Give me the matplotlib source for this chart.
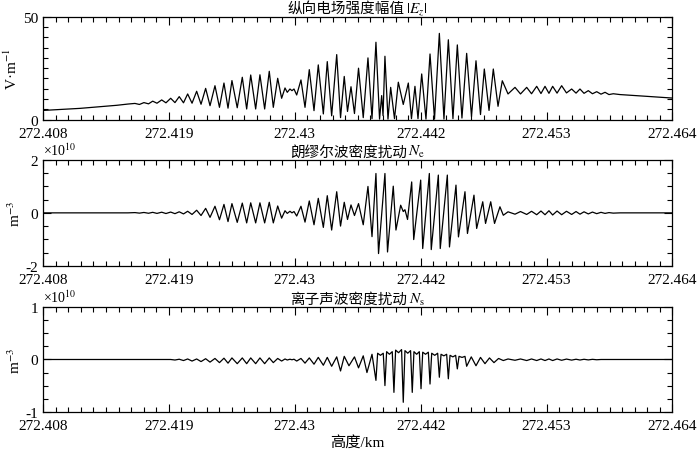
import numpy as np
import matplotlib
matplotlib.use('Agg')
import matplotlib.pyplot as plt
from matplotlib.ticker import FixedLocator, MultipleLocator, AutoMinorLocator
from matplotlib.offsetbox import TextArea, HPacker, AnchoredOffsetbox

plt.rcParams['font.family'] = ['Liberation Serif', 'Noto Sans CJK SC']
plt.rcParams['mathtext.fontset'] = 'stix'
plt.rcParams['axes.unicode_minus'] = False

# height (km), value -- extrema
ez_points = [
    (272.40800, 4.5), (272.41129, 5.5), (272.41458, 7.0), (272.41556, 7.6),
    (272.41618, 7.9), (272.41658, 7.4), (272.41698, 8.3), (272.41739, 7.7),
    (272.41776, 9.0), (272.41814, 8.0), (272.41856, 9.6), (272.41894, 8.2),
    (272.41936, 10.4), (272.41974, 8.3), (272.42012, 11.2), (272.42050, 8.2),
    (272.42087, 12.5), (272.42126, 8.0), (272.42167, 13.8), (272.42206, 7.5),
    (272.42247, 15.2), (272.42286, 6.8), (272.42330, 16.5), (272.42370, 6.0),
    (272.42410, 17.8), (272.42446, 5.6), (272.42481, 19.0), (272.42528, 5.8),
    (272.42573, 20.6), (272.42612, 5.2), (272.42648, 21.7), (272.42692, 5.2),
    (272.42730, 21.8), (272.42772, 5.2), (272.42813, 23.5), (272.42849, 6.0),
    (272.42888, 20.1), (272.42923, 10.4), (272.42953, 15.4), (272.42973, 13.3),
    (272.42997, 14.9), (272.43015, 14.1), (272.43033, 14.9), (272.43057, 12.0),
    (272.43095, 19.3), (272.43131, 6.0), (272.43169, 24.3), (272.43211, 4.4),
    (272.43249, 26.6), (272.43294, 2.8), (272.43329, 28.2), (272.43368, 1.9),
    (272.43413, 31.6), (272.43447, 1.0), (272.43480, 21.0), (272.43509, 4.0),
    (272.43540, 16.0), (272.43571, 3.0), (272.43607, 25.0), (272.43649, 1.0),
    (272.43691, 30.0), (272.43727, 0.5), (272.43762, 37.6), (272.43794, 0.3),
    (272.43813, 11.7), (272.43825, 2.0), (272.43842, 30.8), (272.43869, 0.3),
    (272.43893, 15.7), (272.43927, 0.5), (272.43961, 18.2), (272.44005, 7.4),
    (272.44050, 17.8), (272.44078, 0.5), (272.44109, 16.2), (272.44136, 0.5),
    (272.44169, 22.2), (272.44207, 0.3), (272.44243, 31.9), (272.44283, 0.3),
    (272.44326, 41.9), (272.44367, 0.3), (272.44406, 38.8), (272.44447, 0.5),
    (272.44486, 36.3), (272.44527, 0.8), (272.44569, 32.2), (272.44612, 1.5),
    (272.44652, 28.6), (272.44692, 2.5), (272.44726, 24.6), (272.44768, 4.5),
    (272.44806, 24.6), (272.44848, 6.5), (272.44886, 18.9), (272.44937, 12.5),
    (272.44999, 15.7), (272.45048, 12.5), (272.45103, 15.7), (272.45146, 12.6),
    (272.45192, 16.2), (272.45230, 12.7), (272.45266, 16.2), (272.45301, 12.8),
    (272.45334, 16.2), (272.45373, 12.9), (272.45414, 16.5), (272.45457, 13.0),
    (272.45503, 14.9), (272.45542, 12.9), (272.45577, 14.9), (272.45613, 12.8),
    (272.45651, 14.1), (272.45688, 12.6), (272.45726, 13.6), (272.45764, 12.4),
    (272.45800, 13.3), (272.45835, 12.2), (272.45873, 12.6), (272.45933, 12.2),
    (272.46155, 11.4), (272.46400, 10.5),
]

# Ne in units of 1e10 m^-3
ne_points = [
    (272.40800, 0.0), (272.41556, 0.0),
    (272.41618, 0.01), (272.41658, -0.01), (272.41698, 0.015), (272.41739, -0.015),
    (272.41776, 0.02), (272.41814, -0.02), (272.41856, 0.025), (272.41894, -0.025),
    (272.41936, 0.03), (272.41974, -0.03), (272.42012, 0.04), (272.42050, -0.04),
    (272.42087, 0.06), (272.42126, -0.06), (272.42167, 0.10), (272.42206, -0.10),
    (272.42247, 0.17), (272.42286, -0.17), (272.42330, 0.25), (272.42370, -0.26),
    (272.42410, 0.32), (272.42446, -0.33), (272.42481, 0.35), (272.42528, -0.36),
    (272.42573, 0.37), (272.42612, -0.38), (272.42648, 0.38), (272.42692, -0.38),
    (272.42730, 0.38), (272.42772, -0.38), (272.42813, 0.40), (272.42849, -0.38),
    (272.42888, 0.26), (272.42923, -0.20), (272.42953, 0.08), (272.42973, -0.02),
    (272.42997, 0.06), (272.43015, 0.0), (272.43033, 0.05), (272.43057, -0.12),
    (272.43095, 0.25), (272.43131, -0.35), (272.43169, 0.45), (272.43211, -0.45),
    (272.43249, 0.55), (272.43294, -0.55), (272.43329, 0.65), (272.43368, -0.65),
    (272.43413, 0.80), (272.43447, -0.50), (272.43480, 0.40), (272.43509, -0.25),
    (272.43540, 0.30), (272.43571, -0.10), (272.43607, 0.35), (272.43649, -0.45),
    (272.43691, 1.00), (272.43727, -0.90), (272.43762, 1.49), (272.43785, -1.54),
    (272.43842, 1.49), (272.43865, -1.48), (272.43916, 1.01), (272.43940, -0.65),
    (272.43982, 0.29), (272.44005, 0.05), (272.44020, 0.12), (272.44043, -0.25),
    (272.44080, 1.17), (272.44098, -1.01), (272.44160, 1.24), (272.44178, -1.35),
    (272.44237, 1.49), (272.44254, -1.39), (272.44317, 1.43), (272.44334, -1.35),
    (272.44397, 1.43), (272.44416, -1.29), (272.44474, 1.05), (272.44496, -0.91),
    (272.44554, 0.80), (272.44576, -0.78), (272.44634, 0.67), (272.44658, -0.59),
    (272.44712, 0.42), (272.44737, -0.40), (272.44783, 0.42), (272.44817, -0.40),
    (272.44865, 0.23), (272.44895, -0.09),
    (272.44937, 0.04), (272.44999, -0.05), (272.45048, 0.05), (272.45103, -0.06),
    (272.45146, 0.06), (272.45192, -0.07), (272.45230, 0.07), (272.45266, -0.07),
    (272.45301, 0.08), (272.45334, -0.08), (272.45373, 0.07), (272.45414, -0.07),
    (272.45457, 0.06), (272.45503, -0.06), (272.45542, 0.05), (272.45577, -0.05),
    (272.45613, 0.04), (272.45651, -0.04), (272.45688, 0.03), (272.45726, -0.03),
    (272.45764, 0.02), (272.45800, -0.02), (272.45835, 0.01), (272.45873, -0.01),
    (272.45933, 0.0), (272.46400, 0.0),
]

# Ns in units of 1e10 m^-3
ns_points = [
    (272.40800, 0.0), (272.41936, 0.0),
    (272.41974, -0.01), (272.42012, 0.005), (272.42050, -0.02), (272.42087, 0.01),
    (272.42126, -0.03), (272.42167, 0.01), (272.42206, -0.04), (272.42247, 0.015),
    (272.42286, -0.05), (272.42330, 0.02), (272.42370, -0.06), (272.42410, 0.025),
    (272.42446, -0.07), (272.42481, 0.03), (272.42528, -0.08), (272.42573, 0.03),
    (272.42612, -0.08), (272.42648, 0.03), (272.42692, -0.08), (272.42730, 0.03),
    (272.42772, -0.08), (272.42813, 0.03), (272.42849, -0.06), (272.42888, 0.02),
    (272.42923, -0.03), (272.42953, 0.01), (272.42973, -0.01), (272.42997, 0.005),
    (272.43015, -0.005), (272.43033, 0.005), (272.43057, -0.03), (272.43095, 0.02),
    (272.43131, -0.07), (272.43169, 0.03), (272.43211, -0.09), (272.43249, 0.04),
    (272.43294, -0.11), (272.43329, 0.04), (272.43368, -0.13), (272.43413, 0.05),
    (272.43447, -0.22), (272.43480, 0.06), (272.43522, -0.12), (272.43571, 0.05),
    (272.43607, -0.16), (272.43649, 0.07), (272.43682, -0.25), (272.43727, 0.10),
    (272.43762, -0.40),
    (272.43777, 0.12), (272.43802, 0.08), (272.43827, 0.12), (272.43842, -0.50),
    (272.43857, 0.15), (272.43882, 0.10), (272.43907, 0.15), (272.43922, -0.63),
    (272.43937, 0.18), (272.43963, 0.13), (272.43990, 0.19), (272.44005, -0.82),
    (272.44020, 0.17), (272.44045, 0.12), (272.44070, 0.17), (272.44085, -0.63),
    (272.44100, 0.15), (272.44124, 0.10), (272.44148, 0.15), (272.44163, -0.56),
    (272.44178, 0.14), (272.44203, 0.10), (272.44228, 0.14), (272.44243, -0.47),
    (272.44258, 0.12), (272.44285, 0.08), (272.44311, 0.12), (272.44326, -0.34),
    (272.44341, 0.10), (272.44366, 0.07), (272.44391, 0.10), (272.44406, -0.37),
    (272.44421, 0.08), (272.44446, 0.05), (272.44471, 0.08), (272.44486, -0.18),
    (272.44501, 0.06), (272.44528, 0.04), (272.44554, 0.06), (272.44569, -0.13),
    (272.44610, 0.05), (272.44652, -0.12), (272.44692, 0.04), (272.44732, -0.08),
    (272.44772, 0.03), (272.44812, -0.06), (272.44853, 0.02), (272.44895, -0.02),
    (272.44937, 0.01), (272.44999, -0.015), (272.45048, 0.01), (272.45103, -0.02),
    (272.45146, 0.01), (272.45192, -0.02), (272.45230, 0.01), (272.45266, -0.02),
    (272.45301, 0.01), (272.45334, -0.02), (272.45373, 0.01), (272.45414, -0.015),
    (272.45457, 0.008), (272.45503, -0.012), (272.45542, 0.005), (272.45577, -0.01),
    (272.45613, 0.004), (272.45651, -0.008), (272.45688, 0.003), (272.45726, -0.005),
    (272.45764, 0.0), (272.46400, 0.0),
]

xticks = [272.408, 272.4192, 272.4304, 272.4416, 272.4528, 272.464]
xtick_labels = ['272.408', '272.419', '272.43', '272.442', '272.453', '272.464']

title_cn = ['纵向电场强度幅值', '朗缪尔波密度扰动', '离子声波密度扰动']
title_math = ['$|E_z|$', '$N_\\mathrm{e}$', '$N_\\mathrm{s}$']
ylabels = ['V·m$^{-1}$', 'm$^{-3}$', 'm$^{-3}$']
ylims = [(0, 50), (-2, 2), (-1, 1)]
yticks = [[0, 50], [-2, 0, 2], [-1, 0, 1]]
yminor = [5, 0.5, 0.25]

fig = plt.figure(figsize=(7, 4.56), dpi=100)
rects = [[0.0614, 0.7353, 0.8993, 0.2259],
         [0.0614, 0.4151, 0.8993, 0.2318],
         [0.0614, 0.0950, 0.8993, 0.2289]]

for i, pts in enumerate([ez_points, ne_points, ns_points]):
    ax = fig.add_axes(rects[i])
    x, y = zip(*pts)
    ax.plot(x, y, color='black', lw=0.9)
    ax.set_xlim(272.408, 272.464)
    ax.set_ylim(*ylims[i])
    ax.xaxis.set_major_locator(FixedLocator(xticks))
    ax.set_xticklabels(xtick_labels)
    ax.xaxis.set_minor_locator(AutoMinorLocator(10))
    ax.set_yticks(yticks[i])
    ax.yaxis.set_minor_locator(MultipleLocator(yminor[i]))
    ax.tick_params(which='both', direction='in', top=True, right=True, width=0.8, labelsize=11)
    ax.tick_params(which='major', length=6)
    ax.tick_params(which='minor', length=3.5)
    ax.tick_params(axis='x', pad=5.5)
    for s in ax.spines.values():
        s.set_linewidth(0.9)

    # title: chinese part + math part side by side
    cn = TextArea(title_cn[i], textprops=dict(fontsize=10.5, family='Noto Sans CJK SC'))
    mt = TextArea(title_math[i], textprops=dict(fontsize=11))
    box = HPacker(children=[cn, mt], align='baseline', pad=0, sep=1)
    ab = AnchoredOffsetbox(loc='lower center', child=box, pad=0, borderpad=0, frameon=False,
                           bbox_to_anchor=(0.5, 1.005), bbox_transform=ax.transAxes)
    ax.add_artist(ab)

    ax.set_ylabel(ylabels[i], fontsize=11, labelpad=2)
    if i > 0:
        ax.text(0, 1.02, '×10$^{10}$', transform=ax.transAxes, ha='left', va='bottom', fontsize=10)
    if i == 2:
        ax.set_xlabel('高度/km', fontsize=11, labelpad=2)

fig.savefig('out.png', dpi=100)
